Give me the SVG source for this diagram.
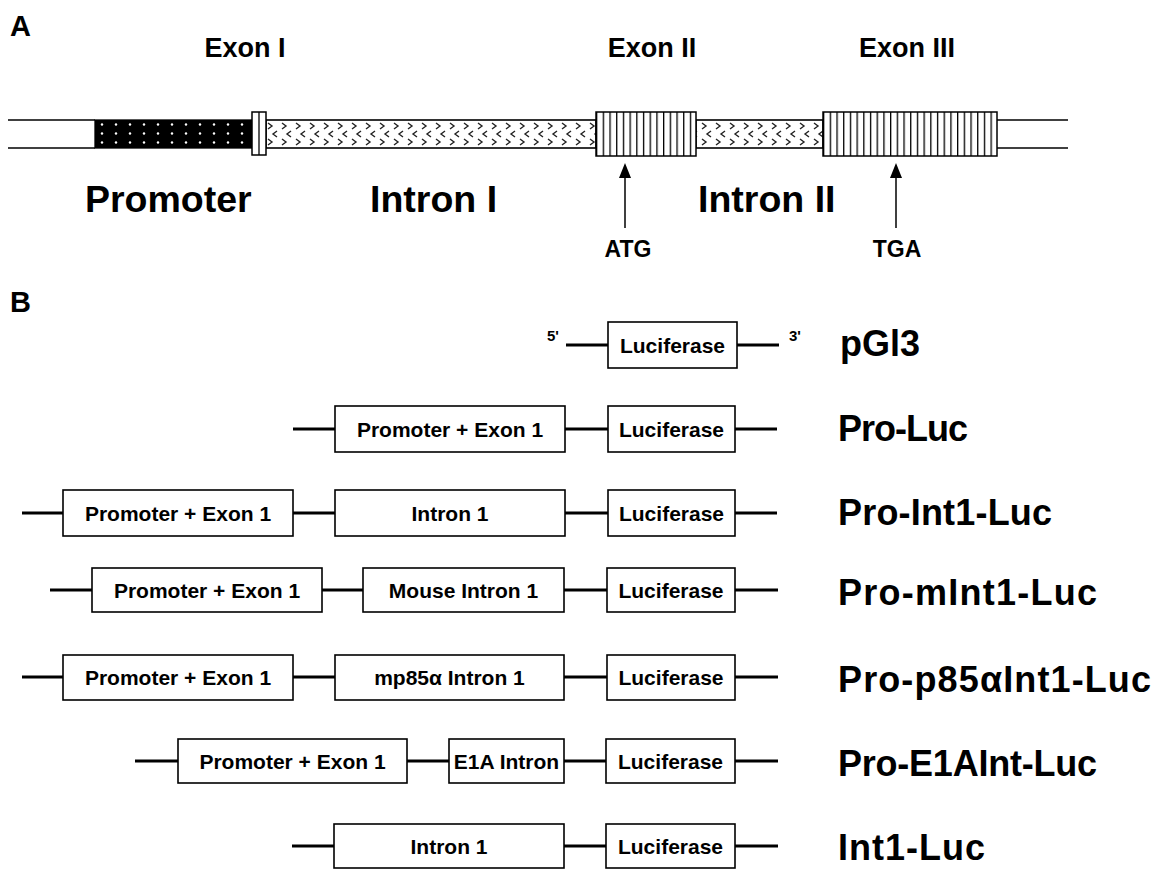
<svg xmlns="http://www.w3.org/2000/svg" width="1157" height="869" viewBox="0 0 1157 869">
<style>
text{font-family:"Liberation Sans",Arial,sans-serif;font-weight:bold;fill:#000}
.hdr{font-size:29px}
.exon{font-size:27px;text-anchor:middle}
.big{font-size:37.5px}
.codon{font-size:23px;text-anchor:middle}
.box{fill:#fff;stroke:#000;stroke-width:1.6}
.boxlbl{font-size:21px;text-anchor:middle}
.lbl{font-size:36px}
.thin{stroke:#000;stroke-width:1.3;fill:none}
.wire{stroke:#000;stroke-width:3;fill:none}
.arrow{stroke:#000;stroke-width:1.5;fill:none}
.head{fill:#000}
</style>
<defs>
<pattern id="dots" x="95" y="120" width="14" height="9" patternUnits="userSpaceOnUse">
<rect width="14" height="9" fill="#000"/>
<circle cx="7" cy="4.5" r="1.2" fill="#fff"/>
</pattern>
<pattern id="chev" x="266" y="120" width="14" height="28" patternUnits="userSpaceOnUse">
<rect width="14" height="28" fill="#fff"/>
<path d="M2,3 L6,6 L2,9 M11,11 L7,14 L11,17 M2,19 L6,22 L2,25" stroke="#222" stroke-width="1.4" fill="none"/>
</pattern>
<pattern id="stripes" x="596" y="0" width="6.7" height="10" patternUnits="userSpaceOnUse">
<rect width="6.7" height="10" fill="#fff"/>
<rect x="0" width="1.3" height="10" fill="#000"/>
</pattern>
<pattern id="stripes3" x="823" y="0" width="6.7" height="10" patternUnits="userSpaceOnUse">
<rect width="6.7" height="10" fill="#fff"/>
<rect x="0" width="1.3" height="10" fill="#000"/>
</pattern>
</defs>

<!-- Panel A -->
<text class="hdr" x="10" y="36">A</text>
<text class="exon" x="245" y="57">Exon I</text>
<text class="exon" x="652" y="57">Exon II</text>
<text class="exon" x="907" y="57">Exon III</text>

<g id="gene">
<line class="thin" x1="8" y1="120" x2="95" y2="120"/>
<line class="thin" x1="8" y1="148" x2="95" y2="148"/>
<line class="thin" x1="997" y1="120" x2="1068" y2="120"/>
<line class="thin" x1="997" y1="148" x2="1068" y2="148"/>
<g id="promoter"><rect x="95" y="120" width="157" height="28" fill="url(#dots)" stroke="#000" stroke-width="1.3"/></g>
<g id="intron1"><rect x="266" y="120" width="330" height="28" fill="url(#chev)" stroke="#000" stroke-width="1.6"/></g>
<g id="intron2"><rect x="696" y="120" width="127" height="28" fill="url(#chev)" stroke="#000" stroke-width="1.6"/></g>
<g id="exon1"><rect x="252" y="112" width="14" height="43" fill="#fff" stroke="#000" stroke-width="1.5"/><line x1="259" y1="112" x2="259" y2="155" stroke="#000" stroke-width="1.3"/></g>
<g id="exon2"><rect x="596" y="112" width="100" height="44" fill="url(#stripes)" stroke="#000" stroke-width="1.5"/></g>
<g id="exon3"><rect x="823" y="112" width="174" height="44" fill="url(#stripes3)" stroke="#000" stroke-width="1.5"/></g>
</g>

<text class="big" x="85" y="212">Promoter</text>
<text class="big" x="370" y="212">Intron I</text>
<text class="big" x="698" y="212">Intron II</text>

<g id="arrowsA">
<line class="arrow" x1="625" y1="228" x2="625" y2="176"/>
<polygon class="head" points="625,163 619,178 631,178"/>
<line class="arrow" x1="896" y1="228" x2="896" y2="176"/>
<polygon class="head" points="896,163 890,178 902,178"/>
</g>
<text class="codon" x="628" y="257">ATG</text>
<text class="codon" x="897" y="257">TGA</text>

<!-- Panel B -->
<text class="hdr" x="10" y="312">B</text>

<g id="connectors">
<line class="wire" x1="566" y1="345" x2="608" y2="345"/>
<line class="wire" x1="737" y1="345" x2="779" y2="345"/>
<line class="wire" x1="293" y1="429" x2="335" y2="429"/>
<line class="wire" x1="565" y1="429" x2="608" y2="429"/>
<line class="wire" x1="735" y1="429" x2="777" y2="429"/>
<line class="wire" x1="22" y1="513" x2="63" y2="513"/>
<line class="wire" x1="293" y1="513" x2="335" y2="513"/>
<line class="wire" x1="565" y1="513" x2="608" y2="513"/>
<line class="wire" x1="735" y1="513" x2="777" y2="513"/>
<line class="wire" x1="50" y1="590" x2="92" y2="590"/>
<line class="wire" x1="322" y1="590" x2="363" y2="590"/>
<line class="wire" x1="564" y1="590" x2="607" y2="590"/>
<line class="wire" x1="735" y1="590" x2="778" y2="590"/>
<line class="wire" x1="22" y1="677" x2="63" y2="677"/>
<line class="wire" x1="293" y1="677" x2="335" y2="677"/>
<line class="wire" x1="564" y1="677" x2="607" y2="677"/>
<line class="wire" x1="735" y1="677" x2="778" y2="677"/>
<line class="wire" x1="135" y1="761" x2="178" y2="761"/>
<line class="wire" x1="407" y1="761" x2="449" y2="761"/>
<line class="wire" x1="564" y1="761" x2="606" y2="761"/>
<line class="wire" x1="735" y1="761" x2="778" y2="761"/>
<line class="wire" x1="292" y1="846" x2="334" y2="846"/>
<line class="wire" x1="564" y1="846" x2="606" y2="846"/>
<line class="wire" x1="735" y1="846" x2="778" y2="846"/>
</g>

<text x="547" y="341" style="font-size:15px">5'</text>
<text x="789" y="341" style="font-size:15px">3'</text>
<g id="r1-luc"><rect class="box" x="608" y="322" width="129" height="46"/><text class="boxlbl" x="672.5" y="353">Luciferase</text></g>
<text class="lbl" x="840" y="356">pGl3</text>

<g id="r2-pro"><rect class="box" x="335" y="406" width="230" height="46"/><text class="boxlbl" x="450" y="437">Promoter + Exon 1</text></g>
<g id="r2-luc"><rect class="box" x="608" y="406" width="127" height="46"/><text class="boxlbl" x="671.5" y="437">Luciferase</text></g>
<text class="lbl" x="838" y="441" textLength="130">Pro-Luc</text>

<g id="r3-pro"><rect class="box" x="63" y="490" width="230" height="46"/><text class="boxlbl" x="178" y="521">Promoter + Exon 1</text></g>
<g id="r3-int"><rect class="box" x="335" y="490" width="230" height="46"/><text class="boxlbl" x="450" y="521">Intron 1</text></g>
<g id="r3-luc"><rect class="box" x="608" y="490" width="127" height="46"/><text class="boxlbl" x="671.5" y="521">Luciferase</text></g>
<text class="lbl" x="838" y="525" textLength="214">Pro-Int1-Luc</text>

<g id="r4-pro"><rect class="box" x="92" y="568" width="230" height="44"/><text class="boxlbl" x="207" y="598">Promoter + Exon 1</text></g>
<g id="r4-int"><rect class="box" x="363" y="568" width="201" height="44"/><text class="boxlbl" x="463.5" y="598">Mouse Intron 1</text></g>
<g id="r4-luc"><rect class="box" x="607" y="568" width="128" height="44"/><text class="boxlbl" x="671" y="598">Luciferase</text></g>
<text class="lbl" x="838" y="605" textLength="259">Pro-mInt1-Luc</text>

<g id="r5-pro"><rect class="box" x="63" y="655" width="230" height="45"/><text class="boxlbl" x="178" y="685">Promoter + Exon 1</text></g>
<g id="r5-int"><rect class="box" x="335" y="655" width="229" height="45"/><text class="boxlbl" x="449.5" y="685">mp85α Intron 1</text></g>
<g id="r5-luc"><rect class="box" x="607" y="655" width="128" height="45"/><text class="boxlbl" x="671" y="685">Luciferase</text></g>
<text class="lbl" x="838" y="692" textLength="313">Pro-p85αInt1-Luc</text>

<g id="r6-pro"><rect class="box" x="178" y="739" width="229" height="44"/><text class="boxlbl" x="292.5" y="769">Promoter + Exon 1</text></g>
<g id="r6-int"><rect class="box" x="449" y="739" width="115" height="44"/><text class="boxlbl" x="506.5" y="769">E1A Intron</text></g>
<g id="r6-luc"><rect class="box" x="606" y="739" width="129" height="44"/><text class="boxlbl" x="670.5" y="769">Luciferase</text></g>
<text class="lbl" x="838" y="776" textLength="259">Pro-E1AInt-Luc</text>

<g id="r7-int"><rect class="box" x="334" y="824" width="230" height="44"/><text class="boxlbl" x="449" y="854">Intron 1</text></g>
<g id="r7-luc"><rect class="box" x="606" y="824" width="129" height="44"/><text class="boxlbl" x="670.5" y="854">Luciferase</text></g>
<text class="lbl" x="838" y="860" textLength="147">Int1-Luc</text>
</svg>
